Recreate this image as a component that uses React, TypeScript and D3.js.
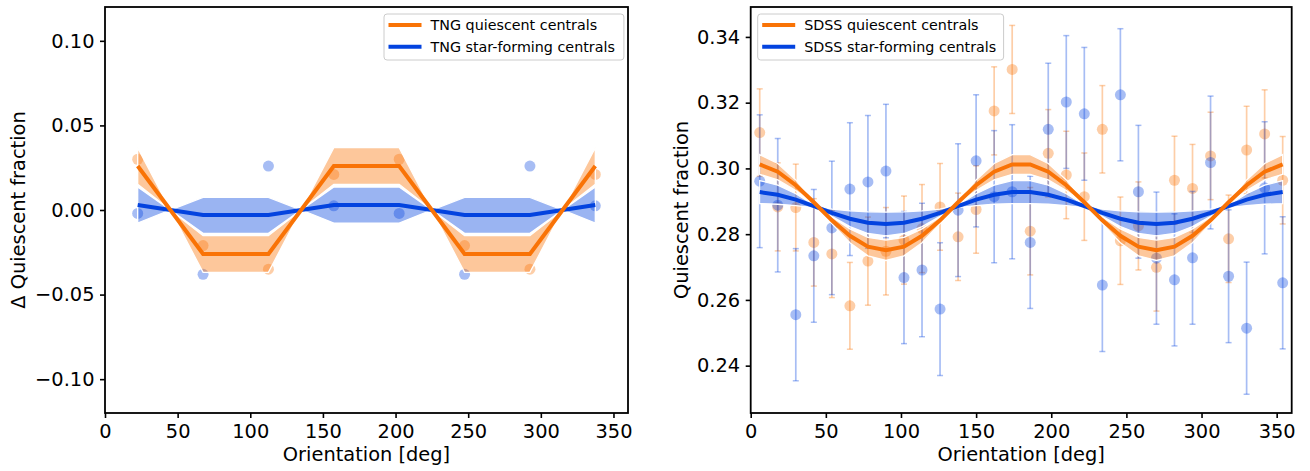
import React, { useEffect, useRef } from 'react';
import * as d3 from 'd3';

const ORANGE = '#f97306';
const BLUE = '#0343df';
const FONT = 'DejaVu Sans, sans-serif';

// ---- left panel: TNG ----
const tngAngles = [22.5, 67.5, 112.5, 157.5, 202.5, 247.5, 292.5, 337.5];
const tngQuiescent = [0.030, -0.021, -0.035, 0.021, 0.030, -0.021, -0.035, 0.021];
const tngStarForming = [-0.002, -0.038, 0.026, 0.0025, -0.002, -0.038, 0.026, 0.0025];

const tngModelAngles = [22.5, 45, 67.5, 112.5, 135, 157.5, 202.5, 225, 247.5, 292.5, 315, 337.5];
const tngQModel = [0.026, 0, -0.026, -0.026, 0, 0.026, 0.026, 0, -0.026, -0.026, 0, 0.026];
const tngQLow = [0.0152, 0, -0.0369, -0.0369, 0, 0.0152, 0.0152, 0, -0.0369, -0.0369, 0, 0.0152];
const tngQHigh = [0.0369, 0, -0.0152, -0.0152, 0, 0.0369, 0.0369, 0, -0.0152, -0.0152, 0, 0.0369];
const tngSFModel = [0.003, 0, -0.003, -0.003, 0, 0.003, 0.003, 0, -0.003, -0.003, 0, 0.003];
const tngSFLow = [-0.0077, 0, -0.0138, -0.0138, 0, -0.0077, -0.0077, 0, -0.0138, -0.0138, 0, -0.0077];
const tngSFHigh = [0.0136, 0, 0.0075, 0.0075, 0, 0.0136, 0.0136, 0, 0.0075, 0.0075, 0, 0.0136];

const tngYTicks = [-0.1, -0.05, 0, 0.05, 0.1];

// ---- right panel: SDSS ----
const sdssAngles = [6, 18, 30, 42, 54, 66, 78, 90, 102, 114, 126, 138, 150, 162, 174,
  186, 198, 210, 222, 234, 246, 258, 270, 282, 294, 306, 318, 330, 342, 354];

const sdssQuiescent = [0.3109, 0.2883, 0.2881, 0.2775, 0.2740, 0.2582, 0.2718, 0.2748, 0.2782, 0.2817,
  0.2883, 0.2792, 0.2875, 0.3175, 0.3301, 0.2809, 0.3046, 0.2980, 0.2914, 0.3119,
  0.2780, 0.2825, 0.2699, 0.2964, 0.2939, 0.3038, 0.2786, 0.3056, 0.3105, 0.2964];
const sdssQuiescentErr = [0.0133, 0.0134, 0.0132, 0.0133, 0.0133, 0.0132, 0.0134, 0.0133, 0.0134, 0.0134,
  0.0132, 0.0133, 0.0133, 0.0134, 0.0134, 0.0133, 0.0133, 0.0133, 0.0133, 0.0133,
  0.0133, 0.0134, 0.0133, 0.0134, 0.0134, 0.0133, 0.0133, 0.0133, 0.0134, 0.0133];

const sdssStarForming = [0.2961, 0.2888, 0.2555, 0.2734, 0.2819, 0.2937, 0.2959, 0.2992, 0.2668, 0.2691,
  0.2572, 0.2873, 0.3023, 0.2914, 0.2929, 0.2775, 0.3119, 0.3202, 0.3166, 0.2645,
  0.3224, 0.2929, 0.2727, 0.2661, 0.2728, 0.3018, 0.2672, 0.2514, 0.2941, 0.2652];
const sdssStarFormingErr = [0.0202, 0.0203, 0.0201, 0.0202, 0.0203, 0.0202, 0.0202, 0.0203, 0.0201, 0.0203,
  0.0202, 0.0202, 0.0201, 0.0201, 0.0204, 0.0201, 0.0201, 0.0202, 0.0202, 0.0202,
  0.0201, 0.0202, 0.0201, 0.0201, 0.0202, 0.0202, 0.0202, 0.0201, 0.0201, 0.0201];

const sdssQModel = [0.3012, 0.2990, 0.2949, 0.2897, 0.2842, 0.2795, 0.2762, 0.2751, 0.2762, 0.2795,
  0.2842, 0.2897, 0.2949, 0.2990, 0.3012, 0.3012, 0.2990, 0.2949, 0.2897, 0.2842,
  0.2795, 0.2762, 0.2751, 0.2762, 0.2795, 0.2842, 0.2897, 0.2949, 0.2990, 0.3012];
const sdssQBand = [0.0030, 0.0025, 0.0016, 0.0003, 0.0010, 0.0021, 0.0028, 0.0031, 0.0028, 0.0021,
  0.0010, 0.0003, 0.0016, 0.0025, 0.0030, 0.0030, 0.0025, 0.0016, 0.0003, 0.0010,
  0.0021, 0.0028, 0.0031, 0.0028, 0.0021, 0.0010, 0.0003, 0.0016, 0.0025, 0.0030];
const sdssSFModel = [0.2928, 0.2920, 0.2905, 0.2885, 0.2865, 0.2847, 0.2835, 0.2831, 0.2835, 0.2847,
  0.2865, 0.2885, 0.2905, 0.2920, 0.2928, 0.2928, 0.2920, 0.2905, 0.2885, 0.2865,
  0.2847, 0.2835, 0.2831, 0.2835, 0.2847, 0.2865, 0.2885, 0.2905, 0.2920, 0.2928];
const sdssSFBand = [0.0035, 0.0029, 0.0018, 0.0004, 0.0011, 0.0024, 0.0033, 0.0036, 0.0033, 0.0024,
  0.0011, 0.0004, 0.0018, 0.0029, 0.0035, 0.0035, 0.0029, 0.0018, 0.0004, 0.0011,
  0.0024, 0.0033, 0.0036, 0.0033, 0.0024, 0.0011, 0.0004, 0.0018, 0.0029, 0.0035];

const sdssYTicks = [0.24, 0.26, 0.28, 0.30, 0.32, 0.34];
const xTicks = [0, 50, 100, 150, 200, 250, 300, 350];

const TOP = 7;
const BOTTOM = 413;

function drawAxes(svg, x, y, yTicks, yFormat, yLabel, yLabelX) {
  const fs = '19.4px';
  const [x0, x1] = x.range();

  const gx = svg.append('g')
    .attr('transform', `translate(0, ${BOTTOM})`)
    .call(d3.axisBottom(x).tickValues(xTicks).tickSize(5).tickPadding(6.5).tickSizeOuter(0));
  const gy = svg.append('g')
    .attr('transform', `translate(${x0}, 0)`)
    .call(d3.axisLeft(y).tickValues(yTicks).tickFormat(yFormat).tickSize(5).tickPadding(5.5).tickSizeOuter(0));

  [gx, gy].forEach((g) => {
    g.select('.domain').remove();
    g.selectAll('line').attr('stroke', 'black').attr('stroke-width', 1.6);
    g.selectAll('text').attr('font-size', fs).attr('font-family', FONT).attr('fill', 'black');
  });

  svg.append('rect')
    .attr('x', x0).attr('y', TOP)
    .attr('width', x1 - x0).attr('height', BOTTOM - TOP)
    .attr('fill', 'none').attr('stroke', 'black').attr('stroke-width', 1.8);

  svg.append('text')
    .attr('x', (x0 + x1) / 2).attr('y', 461)
    .attr('text-anchor', 'middle')
    .attr('font-size', fs).attr('font-family', FONT)
    .text('Orientation [deg]');

  svg.append('text')
    .attr('transform', `translate(${yLabelX}, ${(TOP + BOTTOM) / 2}) rotate(-90)`)
    .attr('dy', '0.35em')
    .attr('text-anchor', 'middle')
    .attr('font-size', fs).attr('font-family', FONT)
    .text(yLabel);
}

function drawBand(svg, x, y, angles, lo, hi, color) {
  const pts = angles.map((a, i) => ({ a, lo: lo[i], hi: hi[i] }));
  const area = d3.area().x((d) => x(d.a)).y0((d) => y(d.lo)).y1((d) => y(d.hi));
  svg.append('path')
    .datum(pts)
    .attr('d', area)
    .attr('fill', color)
    .attr('fill-opacity', 0.4)
    .attr('stroke', 'white')
    .attr('stroke-width', 1.3);
}

function drawLine(svg, x, y, angles, vals, color) {
  const line = d3.line().x((d) => x(d[0])).y((d) => y(d[1]));
  svg.append('path')
    .datum(angles.map((a, i) => [a, vals[i]]))
    .attr('d', line)
    .attr('fill', 'none')
    .attr('stroke', color)
    .attr('stroke-width', 4);
}

function drawPoints(svg, x, y, angles, vals, errs, color) {
  const g = svg.append('g').attr('opacity', 1);
  angles.forEach((a, i) => {
    const cx = x(a);
    if (errs) {
      const yt = y(vals[i] + errs[i]);
      const yb = y(vals[i] - errs[i]);
      g.append('line').attr('x1', cx).attr('x2', cx).attr('y1', yt).attr('y2', yb)
        .attr('stroke', color).attr('stroke-opacity', 0.35).attr('stroke-width', 1.7);
      [yt, yb].forEach((yy) => {
        g.append('line').attr('x1', cx - 3).attr('x2', cx + 3).attr('y1', yy).attr('y2', yy)
          .attr('stroke', color).attr('stroke-opacity', 0.35).attr('stroke-width', 1.5);
      });
    }
    g.append('circle').attr('cx', cx).attr('cy', y(vals[i])).attr('r', 5.5)
      .attr('fill', color).attr('fill-opacity', 0.35);
  });
}

function drawLegend(svg, left, labels) {
  const fs = 14.3;
  const w = 5.7 * 2 + 33 + 9.5 + labels.textW;
  svg.append('rect')
    .attr('x', left).attr('y', 14).attr('width', w).attr('height', 46)
    .attr('rx', 3)
    .attr('fill', 'white').attr('fill-opacity', 0.8)
    .attr('stroke', '#cccccc').attr('stroke-width', 1);
  labels.items.forEach((it, i) => {
    const cy = 25 + i * 21.7;
    svg.append('line')
      .attr('x1', left + 4.5).attr('x2', left + 37.5)
      .attr('y1', cy).attr('y2', cy)
      .attr('stroke', it.color).attr('stroke-width', 4);
    svg.append('text')
      .attr('x', left + 46.5).attr('y', cy + 5.2)
      .attr('font-size', `${fs}px`).attr('font-family', FONT)
      .text(it.label);
  });
}

function drawChart(node) {
  const svg = d3.select(node);
  svg.selectAll('*').remove();

  // left
  const xl = d3.scaleLinear().domain([0, 360]).range([105, 628]);
  const yl = d3.scaleLinear().domain([-0.12, 0.12]).range([BOTTOM, TOP]);
  const gl = svg.append('g');
  drawPoints(gl, xl, yl, tngAngles, tngQuiescent, null, ORANGE);
  drawPoints(gl, xl, yl, tngAngles, tngStarForming, null, BLUE);
  drawBand(gl, xl, yl, tngModelAngles, tngQLow, tngQHigh, ORANGE);
  drawBand(gl, xl, yl, tngModelAngles, tngSFLow, tngSFHigh, BLUE);
  drawLine(gl, xl, yl, tngModelAngles, tngSFModel, BLUE);
  drawLine(gl, xl, yl, tngModelAngles, tngQModel, ORANGE);
  drawAxes(gl, xl, yl, tngYTicks, (d) => d3.format('.2f')(d).replace('-', '\u2212'), '\u0394 Quiescent fraction', 18.7);
  drawLegend(gl, 384, {
    textW: 186,
    items: [
      { label: 'TNG quiescent centrals', color: ORANGE },
      { label: 'TNG star-forming centrals', color: BLUE },
    ],
  });

  // right
  const xr = d3.scaleLinear().domain([0, 360]).range([750.7, 1291.7]);
  const yr = d3.scaleLinear().domain([0.2256, 0.3491]).range([BOTTOM, TOP]);
  const gr = svg.append('g');
  drawPoints(gr, xr, yr, sdssAngles, sdssQuiescent, sdssQuiescentErr, ORANGE);
  drawPoints(gr, xr, yr, sdssAngles, sdssStarForming, sdssStarFormingErr, BLUE);
  drawBand(gr, xr, yr, sdssAngles,
    sdssQModel.map((v, i) => v - sdssQBand[i]), sdssQModel.map((v, i) => v + sdssQBand[i]), ORANGE);
  drawBand(gr, xr, yr, sdssAngles,
    sdssSFModel.map((v, i) => v - sdssSFBand[i]), sdssSFModel.map((v, i) => v + sdssSFBand[i]), BLUE);
  drawLine(gr, xr, yr, sdssAngles, sdssSFModel, BLUE);
  drawLine(gr, xr, yr, sdssAngles, sdssQModel, ORANGE);
  drawAxes(gr, xr, yr, sdssYTicks, d3.format('.2f'), 'Quiescent fraction', 681);
  drawLegend(gr, 757.7, {
    textW: 192,
    items: [
      { label: 'SDSS quiescent centrals', color: ORANGE },
      { label: 'SDSS star-forming centrals', color: BLUE },
    ],
  });
}

export default function App() {
  const ref = useRef<SVGSVGElement>(null);
  useEffect(() => {
    drawChart(ref.current);
  }, []);
  return (
    <svg
      ref={ref}
      width={1310}
      height={471}
      style={{ position: 'absolute', left: 0, top: 0, background: 'white' }}
    />
  );
}
